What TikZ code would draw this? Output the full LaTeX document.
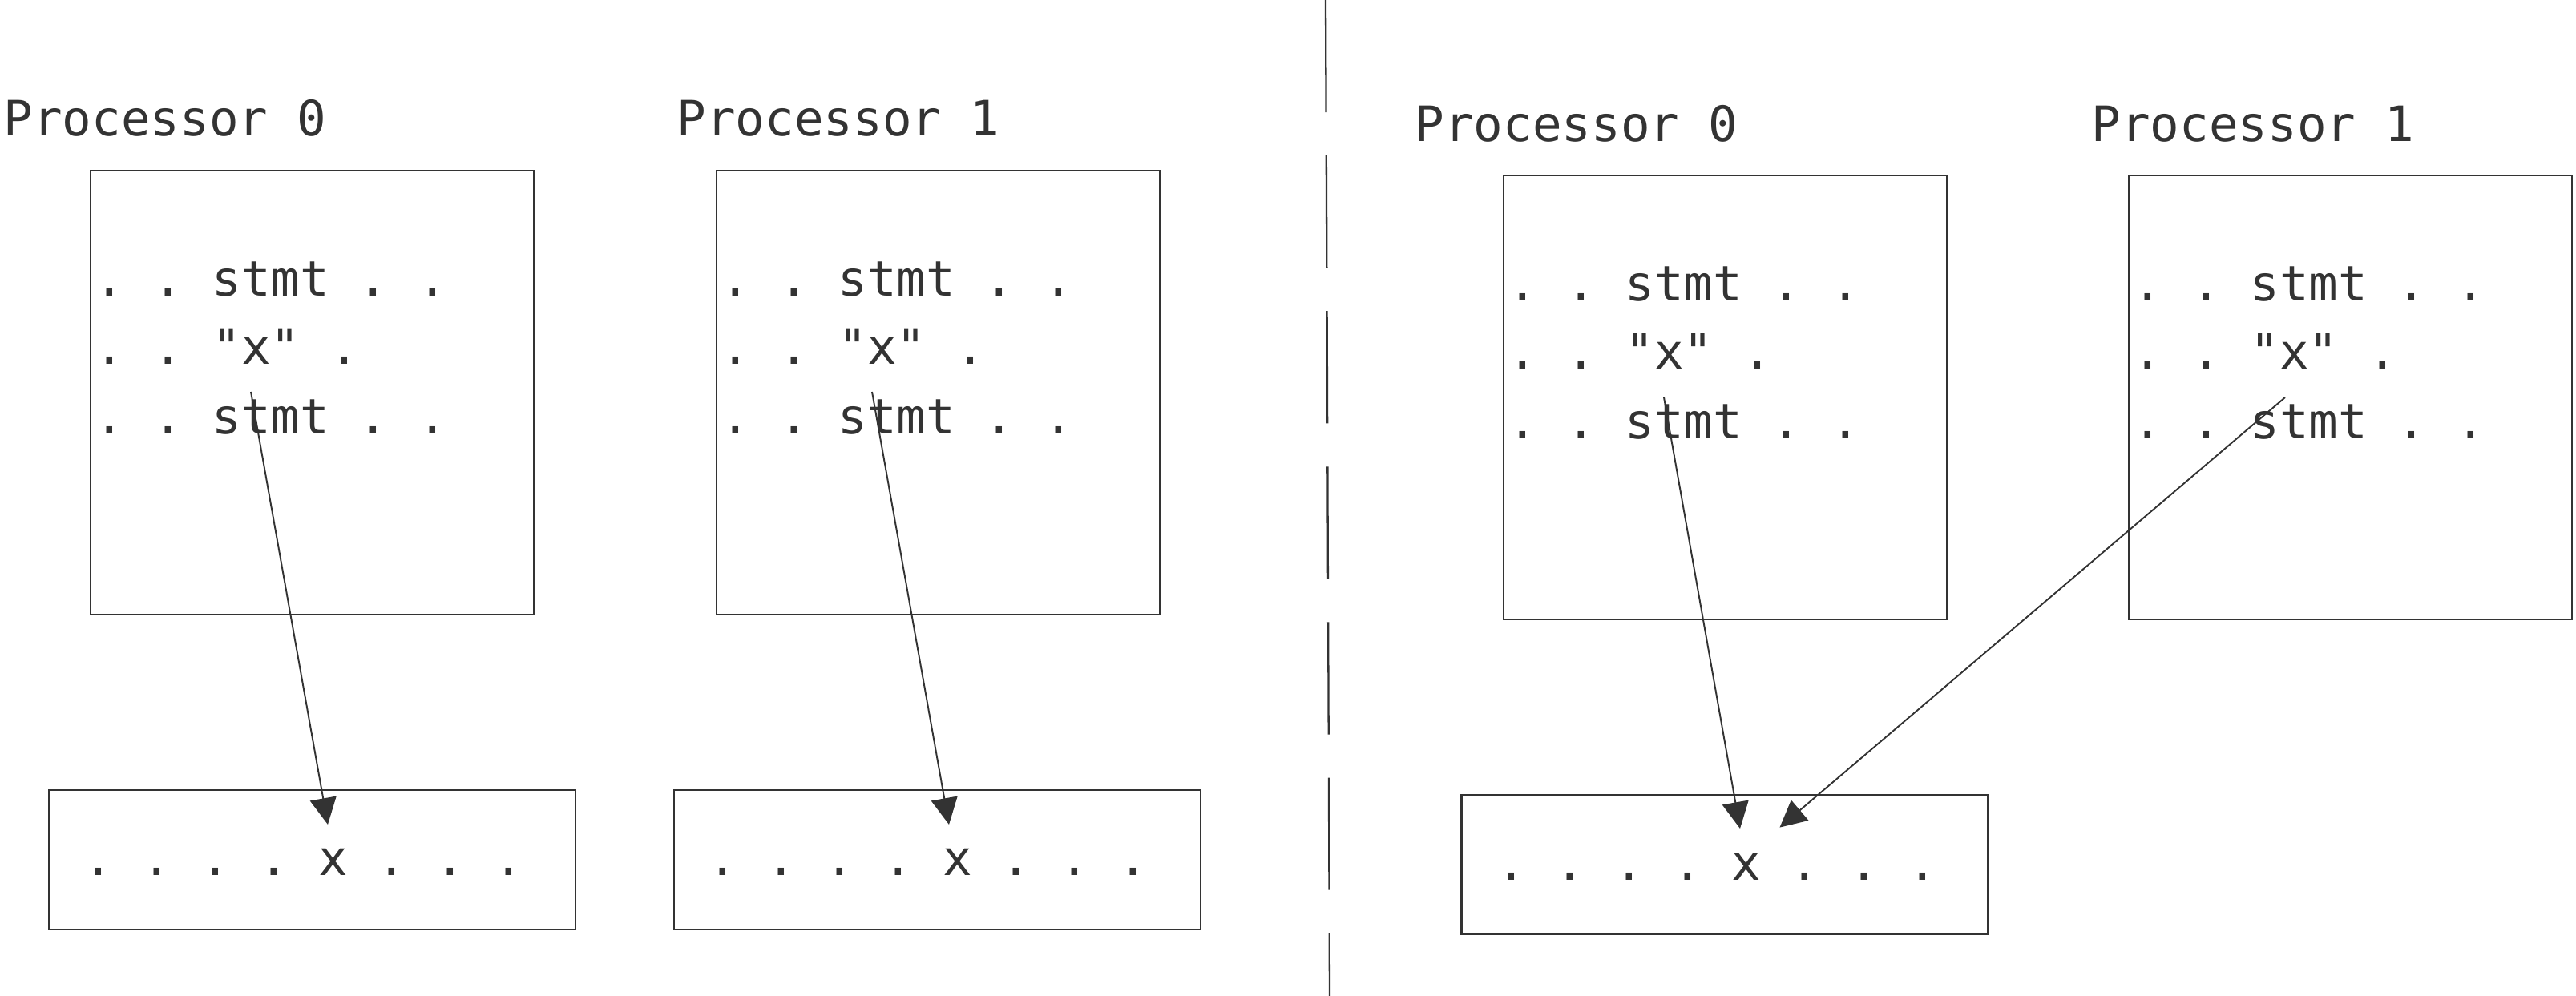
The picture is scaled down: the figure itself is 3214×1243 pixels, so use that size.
\documentclass[tikz,border=0pt]{standalone}
\usepackage{fontspec}
\setmonofont{DejaVu Sans Mono}
\usepackage{tikz}
\usetikzlibrary{arrows.meta}
\definecolor{ink}{HTML}{333333}
\tikzset{
   code/.style={font=\ttfamily\fontsize{17.3}{24}\selectfont, text=ink,
      inner sep=0pt, anchor=base west},
   procbox/.style={draw=ink, line width=0.7pt, inner sep=0pt,
      minimum width=5.53cm, minimum height=5.54cm},
   membox/.style={draw=ink, line width=0.7pt, inner sep=0pt,
      minimum width=6.57cm, minimum height=1.74cm},
   access/.style={draw=ink, line width=0.55pt,
      -{Triangle[length=0.33cm, width=0.33cm]}},
   divider/.style={draw=ink, line width=0.65pt, dash pattern=on 1.4cm off 0.54cm},
    }

\begin{document}
\begin{tikzpicture}[x=0.01cm, y=-0.01cm]
            \useasboundingbox (0,0) rectangle (3214,1243);
            \draw[divider] (1654,0) -- (1659,1243);
            \node[code] (lab0) at (4,170) {Processor 0};
            \node[code] (lab1) at (844,170) {Processor 1};
            \node[code] (lab2) at (1765,177) {Processor 0};
            \node[code] (lab3) at (2609,177) {Processor 1};
            \node[procbox] (box0) at (389.5,490) {};
            \node[procbox] (box1) at (1170.5,490) {};
            \node[procbox] (box2) at (2152.5,496) {};
            \node[procbox] (box3) at (2932.5,496) {};
            \node[membox] (mem0) at (389.5,1073) {};
            \node[membox] (mem1) at (1169.5,1073) {};
            \node[membox] (mem2) at (2152,1079) {};
            \node[code] (b0l1) at (117.5,370) {. . stmt . .};
            \node[code] (b0l2) at (117.5,455) {. . "x" .};
            \node[code] (b0l3) at (117.5,542) {. . stmt . .};
            \node[code] (b1l1) at (898.5,370) {. . stmt . .};
            \node[code] (b1l2) at (898.5,455) {. . "x" .};
            \node[code] (b1l3) at (898.5,542) {. . stmt . .};
            \node[code] (b2l1) at (1880.5,376) {. . stmt . .};
            \node[code] (b2l2) at (1880.5,461) {. . "x" .};
            \node[code] (b2l3) at (1880.5,548) {. . stmt . .};
            \node[code] (b3l1) at (2660.5,376) {. . stmt . .};
            \node[code] (b3l2) at (2660.5,461) {. . "x" .};
            \node[code] (b3l3) at (2660.5,548) {. . stmt . .};
            \node[code] (m0x) at (103.5,1092.5) {. . . . x . . .};
            \node[code] (m1x) at (882.5,1092.5) {. . . . x . . .};
            \node[code] (m2x) at (1867,1098) {. . . . x . . .};
            \coordinate (s0) at (313,489);
            \coordinate (s1) at (1088,489);
            \coordinate (s2) at (2076,496);
            \coordinate (s3) at (2851,496);
            \coordinate (t0) at (409,1029);
            \coordinate (t1) at (1184,1029);
            \coordinate (t2) at (2171,1034);
            \coordinate (t3) at (2220.5,1032.6);
            \draw[access] (s0) -- (t0);
            \draw[access] (s1) -- (t1);
            \draw[access] (s2) -- (t2);
            \draw[access] (s3) -- (t3);
        \end{tikzpicture}
\end{document}
